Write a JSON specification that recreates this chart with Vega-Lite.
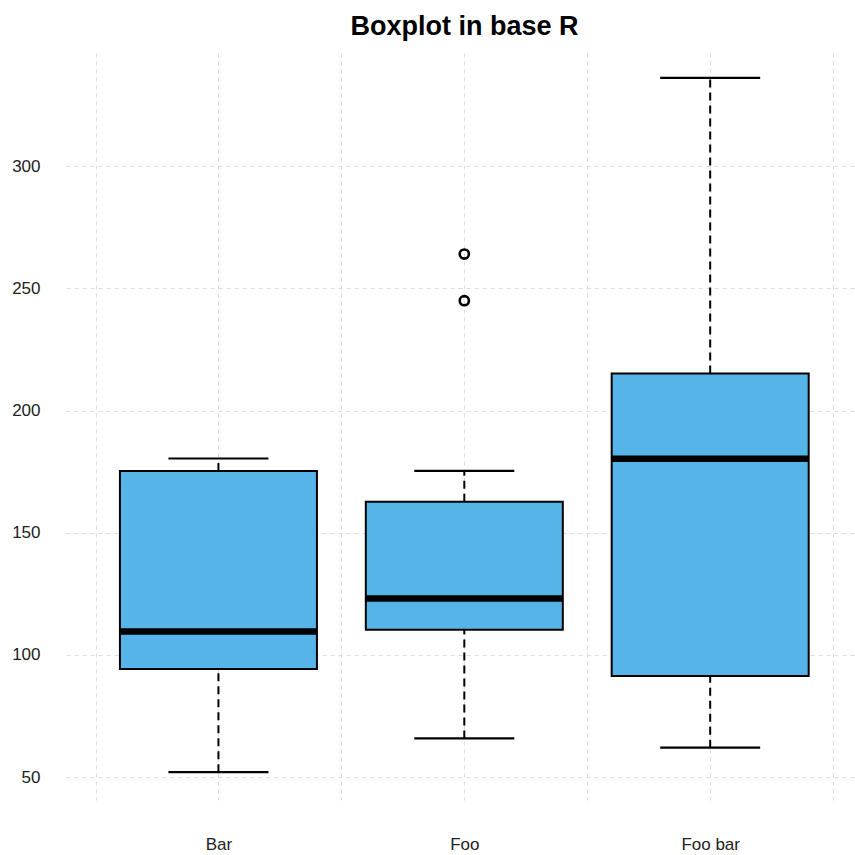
{
  "$schema": "https://vega.github.io/schema/vega-lite/v6.json",
  "autosize": {"type": "none"},
  "width": 789,
  "height": 747,
  "padding": {"left": 66, "top": 53, "right": 0, "bottom": 55},
  "background": "white",
  "title": {
    "text": "Boxplot in base R",
    "font": "Liberation Sans",
    "fontSize": 27,
    "fontWeight": "bold",
    "color": "#000000",
    "anchor": "middle",
    "baseline": "bottom",
    "offset": 12,
    "dx": 4,
    "dy": 27
  },
  "datasets": {
    "boxes": [
      {"group": "Bar", "idx": 1, "lo": 52, "q1": 94.2, "med": 109.6, "q3": 175.3, "hi": 180.4},
      {"group": "Foo", "idx": 2, "lo": 65.8, "q1": 110.3, "med": 123.1, "q3": 162.7, "hi": 175.3},
      {"group": "Foo bar", "idx": 3, "lo": 62, "q1": 91.4, "med": 180.3, "q3": 215.2, "hi": 336.2}
    ],
    "outliers": [
      {"group": "Foo", "idx": 2, "value": 264.1},
      {"group": "Foo", "idx": 2, "value": 245}
    ]
  },
  "config": {
    "view": {"stroke": null},
    "axis": {
      "domain": false,
      "ticks": false,
      "tickSize": 0,
      "grid": true,
      "gridColor": "#dcdcdc",
      "gridDash": [4, 4],
      "gridWidth": 1,
      "labelFont": "Liberation Sans",
      "labelFontSize": 17,
      "labelColor": "#222222",
      "title": null,
      "zindex": 1
    }
  },
  "layer": [
    {
      "data": {"name": "boxes"},
      "mark": {"type": "rule", "color": "#000000", "strokeWidth": 2, "strokeDash": [8, 5]},
      "encoding": {
        "x": {
          "field": "idx",
          "type": "quantitative",
          "scale": {"domain": [0.38, 3.589], "nice": false, "zero": false, "padding": 0},
          "axis": {
            "values": [0.5, 1, 1.5, 2, 2.5, 3, 3.5],
            "labelExpr": "datum.value == 1 ? 'Bar' : datum.value == 2 ? 'Foo' : datum.value == 3 ? 'Foo bar' : ''",
            "labelPadding": 36,
            "labelBaseline": "top"
          }
        },
        "y": {
          "field": "lo",
          "type": "quantitative",
          "scale": {"domain": [40.6, 346.4], "nice": false, "zero": false, "padding": 0},
          "axis": {
            "values": [50, 100, 150, 200, 250, 300],
            "labelPadding": 26,
            "labelBaseline": "middle"
          }
        },
        "y2": {"field": "q1"}
      }
    },
    {
      "data": {"name": "boxes"},
      "mark": {"type": "rule", "color": "#000000", "strokeWidth": 2, "strokeDash": [8, 5]},
      "encoding": {
        "x": {"field": "idx", "type": "quantitative"},
        "y": {"field": "q3", "type": "quantitative"},
        "y2": {"field": "hi"}
      }
    },
    {
      "data": {"name": "boxes"},
      "mark": {"type": "tick", "orient": "horizontal", "color": "#000000", "size": 100, "thickness": 2.2, "opacity": 1},
      "encoding": {
        "x": {"field": "idx", "type": "quantitative"},
        "y": {"field": "lo", "type": "quantitative"}
      }
    },
    {
      "data": {"name": "boxes"},
      "mark": {"type": "tick", "orient": "horizontal", "color": "#000000", "size": 100, "thickness": 2.2, "opacity": 1},
      "encoding": {
        "x": {"field": "idx", "type": "quantitative"},
        "y": {"field": "hi", "type": "quantitative"}
      }
    },
    {
      "data": {"name": "boxes"},
      "mark": {"type": "bar", "orient": "vertical", "size": 197, "fill": "#56B4E9", "stroke": "#000000", "strokeWidth": 2},
      "encoding": {
        "x": {"field": "idx", "type": "quantitative"},
        "y": {"field": "q1", "type": "quantitative"},
        "y2": {"field": "q3"}
      }
    },
    {
      "data": {"name": "boxes"},
      "mark": {"type": "tick", "orient": "horizontal", "color": "#000000", "size": 197, "thickness": 6.5, "opacity": 1},
      "encoding": {
        "x": {"field": "idx", "type": "quantitative"},
        "y": {"field": "med", "type": "quantitative"}
      }
    },
    {
      "data": {"name": "outliers"},
      "mark": {"type": "point", "shape": "circle", "filled": false, "color": "#000000", "size": 85, "strokeWidth": 2.6, "opacity": 1},
      "encoding": {
        "x": {"field": "idx", "type": "quantitative"},
        "y": {"field": "value", "type": "quantitative"}
      }
    }
  ]
}
